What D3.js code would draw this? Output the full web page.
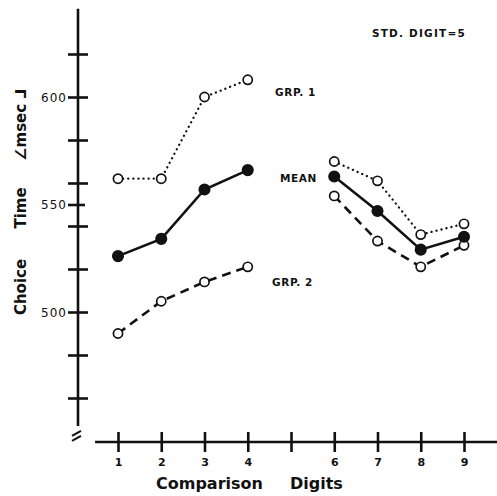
<!DOCTYPE html>
<html>
<head>
<meta charset="utf-8">
<script src="https://cdn.jsdelivr.net/npm/d3@7"></script>
<style>
  body { margin: 0; background: #fff; }
  svg { color: #111; }
  svg text { font-family: "DejaVu Sans", sans-serif; font-weight: bold; fill: #111; }
</style>
</head>
<body>
<svg id="chart" width="497" height="496"></svg>
<script>
// Werte
const digits = [1, 2, 3, 4, 6, 7, 8, 9];
const grp1 = [562, 562, 600, 608, 570, 561, 536, 541];
const mean = [526, 534, 557, 566, 563, 547, 529, 535];
const grp2 = [490, 505, 514, 521, 554, 533, 521, 531];

const xTicks = [1, 2, 3, 4, 5, 6, 7, 8, 9];
const yTicks = [460, 480, 500, 520, 540, 550, 560, 580, 600, 620];
const yLabels = [500, 550, 600];

const svg = d3.select("#chart");
const ink = "#111";

const x = d3.scaleLinear().domain([1, 9]).range([118, 464]);
const y = d3.scaleLinear().domain([500, 600]).range([312, 97]);

const axisX = 78;  // Lage der y-Achse
const axisY = 442; // Lage der x-Achse

// y-Achse
const yAxis = svg.append("g")
  .attr("transform", `translate(${axisX},0)`)
  .call(d3.axisLeft(y)
    .tickValues(yTicks)
    .tickSize(10)
    .tickPadding(1)
    .tickFormat(d => yLabels.includes(d) ? d : ""));
yAxis.select(".domain").remove();
yAxis.selectAll(".tick line")
  .attr("x1", d => d === 550 ? 7 : 10)
  .attr("stroke", ink)
  .attr("stroke-width", 2.6);
yAxis.selectAll(".tick text")
  .style("font-size", "12px")
  .style("font-weight", "normal")
  .style("letter-spacing", "1px")
  .attr("fill", ink)
  .attr("dy", "0.35em");

svg.append("line")
  .attr("x1", axisX).attr("x2", axisX)
  .attr("y1", y(641)).attr("y2", y(447))
  .attr("stroke", ink).attr("stroke-width", 2.6);

// Achsenbruch
[0, 5].forEach(o => {
  svg.append("line")
    .attr("x1", axisX - 6).attr("y1", y(447) + 10 + o)
    .attr("x2", axisX + 3).attr("y2", y(447) + 5 + o)
    .attr("stroke", ink).attr("stroke-width", 2);
});

// x-Achse
const xAxis = svg.append("g")
  .attr("transform", `translate(0,${axisY})`)
  .call(d3.axisBottom(x)
    .tickValues(xTicks)
    .tickSize(10)
    .tickPadding(6)
    .tickFormat(d => d === 5 ? "" : d));
xAxis.select(".domain").remove();
xAxis.selectAll(".tick line")
  .attr("y1", -10)
  .attr("stroke", ink)
  .attr("stroke-width", 2.6);
xAxis.selectAll(".tick text")
  .style("font-size", "11px")
  .attr("fill", ink);

svg.append("line")
  .attr("x1", x(0.47)).attr("x2", x(9.83))
  .attr("y1", axisY).attr("y2", axisY)
  .attr("stroke", ink).attr("stroke-width", 2.6);

// Linien, getrennt vor und nach der Standardziffer 5
function segments(values) {
  const pts = digits.map((d, i) => ({ d, v: values[i] }));
  return [pts.filter(p => p.d < 5), pts.filter(p => p.d > 5)];
}

const line = d3.line().x(p => x(p.d)).y(p => y(p.v));

const series = [
  { values: grp1, dash: "0.1,5", width: 2.3, filled: false },
  { values: grp2, dash: "9,6", width: 2.6, filled: false },
  { values: mean, dash: null, width: 2.6, filled: true },
];

series.forEach(s => {
  segments(s.values).forEach(seg => {
    svg.append("path")
      .datum(seg)
      .attr("d", line)
      .attr("fill", "none")
      .attr("stroke", ink)
      .attr("stroke-width", s.width)
      .attr("stroke-linecap", s.dash === "0.1,5" ? "round" : "butt")
      .attr("stroke-dasharray", s.dash);
  });
  svg.append("g").selectAll("circle")
    .data(digits.map((d, i) => ({ d, v: s.values[i] })))
    .join("circle")
    .attr("cx", p => x(p.d))
    .attr("cy", p => y(p.v))
    .attr("r", s.filled ? 5.2 : 4.6)
    .attr("fill", s.filled ? ink : "#fff")
    .attr("stroke", ink)
    .attr("stroke-width", 1.7);
});

// Beschriftungen
const small = (t, px, py) => svg.append("text")
  .attr("x", px).attr("y", py)
  .style("font-size", "10.5px")
  .style("letter-spacing", "0.6px")
  .text(t);
small("GRP. 1", 275, 96);
small("MEAN", 280, 182);
small("GRP. 2", 272, 286);
small("STD.  DIGIT=5", 372, 37).style("letter-spacing", "1.2px");

svg.append("text").attr("x", 156).attr("y", 489).style("font-size", "16px").text("Comparison");
svg.append("text").attr("x", 290).attr("y", 489).style("font-size", "16px").text("Digits");

[["Choice", 287], ["Time", 208], ["∠msec ⅃", 125]].forEach(([t, cy]) => {
  svg.append("text")
    .attr("transform", `translate(26,${cy}) rotate(-90)`)
    .attr("text-anchor", "middle")
    .style("font-size", "15px")
    .text(t);
});
</script>
</body>
</html>
